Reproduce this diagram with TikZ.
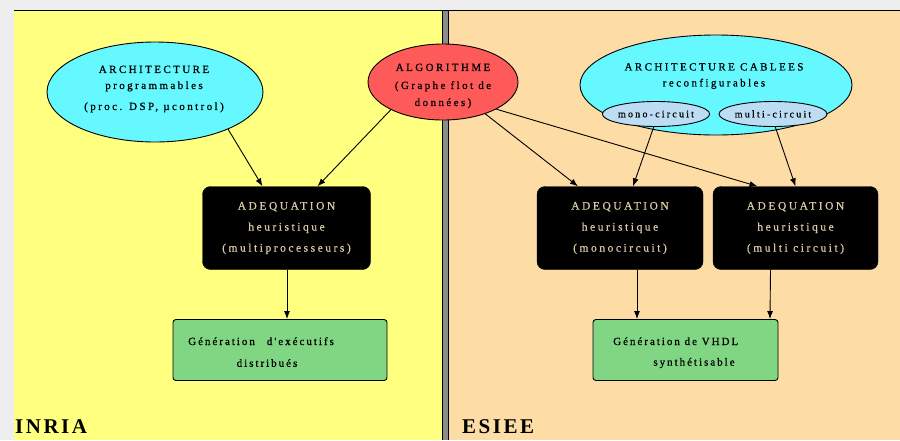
\documentclass[tikz,border=0pt]{standalone}
\usepackage{fontspec}
\setmainfont{Liberation Serif}
\newfontfamily\trk[LetterSpace=22,FakeBold=0.6]{Liberation Serif}
\newfontfamily\trkg[LetterSpace=18,FakeBold=0.6]{Liberation Serif}
\newfontfamily\trkb[LetterSpace=12]{Liberation Serif}
\usetikzlibrary{shapes.geometric,arrows.meta}
\definecolor{outerbg}{HTML}{EEEEEE}
\definecolor{inriabg}{HTML}{FFFF80}
\definecolor{esieebg}{HTML}{FDDCA6}
\definecolor{divider}{HTML}{8C8C8C}
\definecolor{archcyan}{HTML}{66F8FF}
\definecolor{algored}{HTML}{FF5A5A}
\definecolor{subblue}{HTML}{BCDDF4}
\definecolor{gengreen}{HTML}{80D682}
\definecolor{boxtext}{HTML}{D9C9A6}
\tikzset{
  ell/.style={ellipse, draw=black, line width=0.9pt, inner sep=0pt},
  txt/.style={font=\trk\fontsize{11}{13}\selectfont, align=center, inner sep=0pt},
  gtxt/.style={font=\trkg\fontsize{11}{13}\selectfont, align=center, inner sep=0pt},
  adeq/.style={rectangle, rounded corners=8pt, fill=black, draw=black,
               minimum height=83pt, inner sep=0pt,
               text=boxtext, font=\trk\fontsize{11.5}{21}\selectfont, align=center},
  gen/.style={rectangle, rounded corners=3pt, fill=gengreen, draw=black,
              line width=0.9pt, minimum height=61pt, inner sep=0pt},
  arr/.style={-{Latex[length=8pt,width=6pt]}, line width=0.9pt, black},
  site/.style={font=\trkb\bfseries\fontsize{21}{24}\selectfont, anchor=base west, inner sep=0pt}
}
\begin{document}
\begin{tikzpicture}[x=1pt,y=-1pt]
\useasboundingbox (0,0) rectangle (900,440);
% panels
\fill[outerbg] (0,0) rectangle (900,440);
\fill[inriabg] (14,10) rectangle (442,440);
\fill[esieebg] (448,10) rectangle (900,440);
\fill[divider] (442,10) rectangle (448,440);
\draw[line width=1pt] (14,10) -- (900,10);
\draw[line width=0.8pt] (442,10) -- (442,440);
\draw[line width=0.8pt] (448,10) -- (448,440);

% top row
\node[ell, fill=archcyan, minimum width=216pt, minimum height=100pt] (archi) at (155,92) {};
\node[txt] (architxt) at (154,89) {ARCHITECTURE\\[3pt]programmables\\[8pt](proc. DSP, µcontrol)};

\node[ell, fill=algored, minimum width=150pt, minimum height=76pt] (algo) at (443,82) {};
\node[txt] (algotxt) at (443,86) {ALGORITHME\\[5pt](Graphe flot de\\[4pt]données)};

\node[ell, fill=archcyan, minimum width=272pt, minimum height=100pt] (cable) at (716,85) {};
\node[txt] (cabletxt) at (714,76) {ARCHITECTURE CABLEES\\[3pt]reconfigurables};
\node[ell, fill=subblue, minimum width=100pt, minimum height=25pt, font=\trk\fontsize{10}{12}\selectfont] (mono) at (656,114) {mono-circuit};
\node[ell, fill=subblue, minimum width=98pt, minimum height=25pt, font=\trk\fontsize{10}{12}\selectfont] (multi) at (773,114) {multi-circuit};

% adequation boxes
\node[adeq, minimum width=168pt] (adqL) at (286.5,228) {ADEQUATION\\heuristique\\(multiprocesseurs)};
\node[adeq, minimum width=166pt] (adqM) at (620,228) {ADEQUATION\\heuristique\\(monocircuit)};
\node[adeq, minimum width=165pt] (adqR) at (795.5,228) {ADEQUATION\\heuristique\\(multi circuit)};

% generation boxes
\node[gen, minimum width=214pt] (genL) at (280,350) {};
\node[gtxt, anchor=base west] (genL1) at (188,345) {Génération\hspace{12pt}d'exécutifs};
\node[gtxt] (genL2) at (267,363) {distribués};
\node[gen, minimum width=185pt] (genR) at (685.5,350) {};
\node[gtxt, anchor=base west] (genR1) at (613,345) {Génération de VHDL};
\node[gtxt] (genR2) at (694,363) {synthétisable};

% site labels
\node[site] (inria) at (15,433) {INRIA};
\node[site] (esiee) at (462,433) {ESIEE};

% connectors
\draw[arr] (archi.-27) -- ([xshift=-24pt]adqL.north);
\draw[arr] (algo.-152) -- ([xshift=31pt]adqL.north);
\draw[arr] (algo.-37) -- ([xshift=-42pt]adqM.north);
\draw[arr] (algo.-27) -- ([xshift=-38pt]adqR.north);
\draw[arr] (mono.-100) -- ([xshift=13pt]adqM.north);
\draw[arr] (multi.-80) -- ([xshift=0pt]adqR.north);
\draw[arr] ([xshift=0.5pt]adqL.south) -- ([xshift=7pt]genL.north);
\draw[arr] ([xshift=17pt]adqM.south) -- ([xshift=-48.5pt]genR.north);
\draw[arr] ([xshift=-25pt]adqR.south) -- ([xshift=84.5pt]genR.north);
\end{tikzpicture}
\end{document}
